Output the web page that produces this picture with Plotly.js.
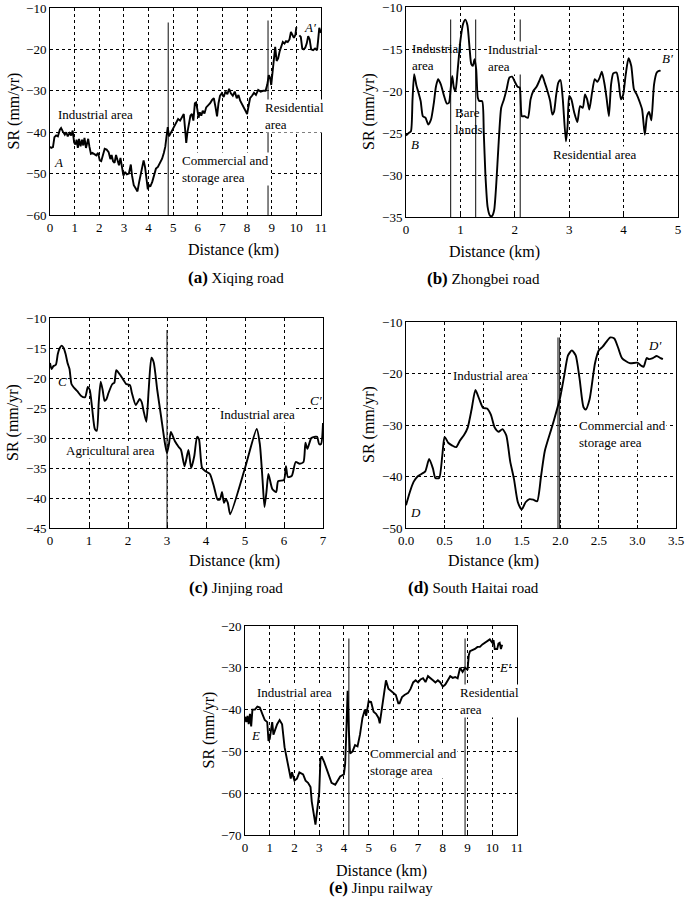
<!DOCTYPE html>
<html><head><meta charset="utf-8">
<script src="https://cdn.plot.ly/plotly-3.0.1.min.js"></script>
<style>body{margin:0;background:#fff}#c{width:685px;height:902px}</style>
</head><body><div id="c"></div>
<script>
// ---------- DATA ----------
// (a) Xiqing road
const aX = [0,0.05,0.12,0.18,0.25,0.32,0.4,0.45,0.52,0.6,0.66,0.72,0.8,0.86,0.92,0.98,1.03,1.08,1.13,1.18,1.24,1.3,1.35,1.4,1.46,1.5,1.55,1.6,1.66,1.72,1.8,1.88,1.95,2.02,2.08,2.15,2.22,2.3,2.38,2.45,2.5,2.56,2.62,2.68,2.74,2.8,2.86,2.92,2.98,3.05,3.12,3.2,3.28,3.33,3.4,3.47,3.55,3.62,3.68,3.74,3.8,3.86,3.92,3.97,4.02,4.08,4.15,4.22,4.3,4.38,4.46,4.55,4.62,4.68,4.73,4.78,4.83,4.9,4.97,5.05,5.12,5.2,5.28,5.36,5.43,5.48,5.53,5.58,5.64,5.7,5.76,5.82,5.88,5.93,5.98,6.03,6.08,6.14,6.2,6.27,6.34,6.42,6.5,6.58,6.65,6.72,6.78,6.84,6.9,6.97,7.05,7.12,7.2,7.27,7.34,7.42,7.5,7.58,7.65,7.72,7.8,7.88,7.95,8.0,8.06,8.12,8.2,8.28,8.36,8.45,8.55,8.65,8.75,8.82,8.88,8.93,8.98,9.03,9.08,9.14,9.2,9.26,9.32,9.38,9.45,9.52,9.58,9.65,9.72,9.78,9.84,9.9,9.96,10.0,10.06,10.12,10.18,10.24,10.3,10.36,10.42,10.48,10.54,10.6,10.68,10.76,10.84,10.88,10.93,11.0];
const aY = [-43.5,-43.8,-43.6,-41.2,-40.8,-41,-39.4,-39,-39.8,-40.6,-40,-41,-40.2,-40.8,-39.6,-42.5,-43,-41.8,-43.8,-41.6,-43.4,-41.8,-43.2,-41.4,-43.8,-42.4,-41.6,-43.5,-45.2,-45,-45.3,-45.6,-45,-46.8,-47,-45.5,-44,-44.2,-44.8,-46.5,-45.5,-47,-47.4,-45.5,-46.8,-48,-46.2,-48.5,-50.5,-49.6,-50.2,-50,-47.8,-50.5,-52.8,-53.5,-54.3,-52,-50.5,-48.5,-46.8,-48.5,-51.5,-53.8,-52.8,-53,-52,-50.3,-48.8,-48.4,-47.5,-46.4,-45,-43.5,-41,-38.8,-41,-40.2,-39.5,-38.2,-37.5,-36.8,-37.2,-36.5,-35.6,-39,-42.6,-40,-37.5,-36,-35.6,-37.2,-33,-32.8,-34.5,-36.5,-35.2,-36,-34.8,-35.5,-34,-33.6,-33,-32.2,-31.8,-34,-36.2,-33,-31.2,-30.6,-31.5,-30.2,-30.8,-29.5,-30.6,-31.2,-30.2,-31.8,-31,-32.4,-33.2,-34,-35,-35.6,-33.5,-31.8,-31.2,-30.5,-31,-29.8,-30.2,-30,-30,-28.5,-26.2,-26.8,-28.6,-25.5,-23.5,-19.4,-22.8,-22.2,-20.5,-19.5,-18.2,-18.6,-18,-18.2,-17.6,-15.8,-16.6,-17.2,-16.5,-14.6,null,-16.6,-17,-19.8,-20,-19.6,-18.6,-16.8,-17.6,-20,-20.2,-19.8,-20.2,-18,-14.8,-16];

// (b) Zhongbei road
const bX = [0,0.05,0.09,0.12,0.15,0.19,0.23,0.27,0.31,0.36,0.41,0.46,0.51,0.55,0.59,0.64,0.7,0.75,0.79,0.82,0.85,0.88,0.91,0.95,1.0,1.05,1.09,1.13,1.17,1.2,1.23,1.26,1.29,1.32,1.35,1.4,1.43,1.46,1.5,1.54,1.58,1.62,1.66,1.7,1.75,1.8,1.85,1.9,1.95,2.0,2.05,2.09,2.13,2.18,2.24,2.29,2.34,2.4,2.45,2.5,2.55,2.6,2.65,2.69,2.72,2.76,2.8,2.84,2.88,2.94,2.97,3.0,3.04,3.09,3.15,3.2,3.25,3.29,3.33,3.37,3.42,3.47,3.52,3.56,3.6,3.65,3.69,3.73,3.77,3.81,3.87,3.91,3.95,3.99,4.04,4.09,4.14,4.19,4.24,4.29,4.34,4.39,4.43,4.47,4.51,4.56,4.61,4.65,4.68];
const bY = [-25.3,-25,-24.8,-21,-18,-19.3,-20.2,-21.2,-23,-23.2,-24,-23.4,-21.5,-19.5,-18.6,-19.2,-20.6,-21.5,-21.4,-19.8,-18.2,-19.6,-20,-17.5,-14,-12,-11.5,-12.2,-15,-16.8,-17,-16.2,-17.4,-20.8,-21.2,-21.2,-25,-30,-33.8,-34.8,-34.9,-34.2,-31,-26.5,-22,-21,-19.8,-18.4,-18.3,-18.9,-19.5,-19.6,-23,-23,-23.2,-21,-20,-19.5,-18.8,-18.1,-19,-20,-21.2,-22.8,-22.5,-20.5,-19,-18.7,-20.8,-26,-24.2,-20.6,-21,-22.5,-23.7,-21.8,-22,-20.4,-21,-22.2,-20.2,-18.6,-18.9,-18.4,-17.7,-19.2,-21,-23,-19.2,-17.9,-17.8,-19,-21,-20.5,-18,-16.1,-17,-19.8,-20.4,-21.2,-22.2,-25.2,-23,-22.5,-23.5,-19.2,-17.8,-17.6,-17.6];

// (c) Jinjing road
const cX = [0,0.04,0.09,0.15,0.2,0.25,0.3,0.35,0.4,0.45,0.5,0.55,0.6,0.7,0.8,0.9,0.97,1.02,1.08,1.15,1.2,1.25,1.3,1.35,1.4,1.45,1.5,1.6,1.65,1.7,1.8,1.9,1.95,2.05,2.1,2.2,2.3,2.35,2.4,2.47,2.53,2.6,2.66,2.75,2.85,2.95,3.0,3.05,3.1,3.2,3.3,3.36,3.45,3.55,3.62,3.7,3.77,3.82,3.9,4.0,4.1,4.2,4.3,4.36,4.41,4.46,4.51,4.56,4.62,5.0,5.3,5.38,5.45,5.5,5.55,5.6,5.7,5.8,5.85,6.0,6.05,6.1,6.2,6.3,6.4,6.5,6.55,6.6,6.7,6.8,6.85,6.9,6.95,7.0];
const cY = [-17.5,-18.5,-18,-17.8,-16,-15,-14.6,-15,-16,-17.5,-18.5,-21,-21.5,-22.2,-23,-23.2,-21.5,-22,-25,-28.5,-28.8,-24,-20.6,-22,-23.8,-23.5,-22.5,-21,-20.8,-18.7,-19.5,-20.5,-21,-21.2,-22.5,-24.5,-23.5,-24,-25.5,-27.3,-22,-16.6,-17.4,-22,-26.5,-31,-32.5,-31,-29,-30.5,-31.5,-32,-34.7,-32,-35,-33,-29.8,-30.2,-35,-35.6,-36,-38,-40.3,-40.2,-39,-40.8,-40.2,-40.8,-42.7,-35,-28.5,-31,-37,-41.5,-39,-36,-38.5,-39,-37.2,-37,-34.7,-36.5,-36.3,-34,-34.3,-34,-30.8,-31.8,-30,-29.8,-29.8,-31,-31,-27.5];

// (d) South Haitai road
const dX = [0,0.05,0.1,0.15,0.2,0.25,0.3,0.35,0.38,0.43,0.47,0.5,0.55,0.6,0.65,0.7,0.75,0.8,0.85,0.9,0.95,1.0,1.05,1.1,1.15,1.2,1.25,1.3,1.35,1.4,1.45,1.5,1.55,1.6,1.65,1.7,1.75,1.8,1.9,2.0,2.05,2.1,2.15,2.2,2.25,2.3,2.33,2.38,2.45,2.5,2.55,2.6,2.65,2.7,2.75,2.8,2.9,3.0,3.05,3.08,3.12,3.15,3.2,3.25,3.3,3.33];
const dY = [-45.6,-43,-41,-40,-39.5,-39,-36.6,-38.5,-40.3,-40.3,-36,-32.3,-33.5,-34,-34.3,-33,-32,-30.5,-27,-23.2,-25,-26.7,-26.8,-28,-30.5,-31.3,-30.8,-32,-37,-40.5,-45,-46.4,-45,-44.4,-44.5,-44.8,-40,-35,-30,-24.5,-20.5,-16.5,-15.5,-16.5,-21,-26.5,-27,-25,-18,-15.5,-14.8,-13.8,-13,-13.2,-15,-17,-18,-17.9,-18.5,-18.7,-17,-17.2,-17,-16.6,-17,-17.2];

// (e) Jinpu railway
const eX = [0,0.05,0.1,0.15,0.2,0.25,0.3,0.4,0.5,0.6,0.7,0.8,0.9,0.95,1.0,1.05,1.1,1.15,1.2,1.3,1.4,1.5,1.6,1.7,1.8,1.85,1.9,2.0,2.1,2.2,2.35,2.45,2.55,2.6,2.65,2.7,2.8,2.85,2.9,2.95,3.0,3.05,3.1,3.2,3.35,3.5,3.65,3.75,3.85,4.0,4.05,4.1,4.15,4.2,4.25,4.35,4.45,4.55,4.65,4.75,4.85,4.9,5.0,5.1,5.2,5.3,5.4,5.45,5.5,5.6,5.7,5.8,5.9,6.0,6.1,6.2,6.25,6.35,6.45,6.6,6.7,6.8,6.9,7.0,7.1,7.2,7.3,7.4,7.5,7.6,7.7,7.8,7.9,8.0,8.1,8.2,8.3,8.4,8.5,8.6,8.7,8.8,8.9,9.0,9.05,9.1,9.2,9.3,9.4,9.5,9.6,9.7,9.8,9.9,10.0,10.05,10.1,10.2,10.25,10.3,10.35,10.4];
const eY = [-41.7,-43,-41.5,-43.5,-41,-44,-40,-40,-39.3,-39.5,-41,-42.5,-43,-47.5,-47,-45,-43,-46,-45,-43.5,-42.5,-43.5,-49,-52,-55,-56.5,-55,-57,-56.5,-55,-55.5,-57,-57.5,-58,-58.5,-62,-66,-67.5,-65,-62,-60,-52,-51.2,-52.5,-55,-57.5,-58,-57,-56,-55.5,-53,-45,-35.5,-45,-50.5,-50,-48.5,-48.8,-46,-42,-40,-41.5,-38,-38.2,-40.5,-41,-42,-43.3,-41,-37,-33,-35,-35.5,-36,-36.5,-38.5,-38.5,-37,-36.5,-36,-35,-33.5,-33,-33.5,-32.8,-32.5,-33.4,-32,-32.6,-33,-33.5,-33,-33.5,-34.5,-34,-33,-32,-32.4,-32.2,-32.5,-30,-31,-30,-30.5,-27,-26,-25.8,-25.5,-25,-25,-24.4,-24,-23.5,-23.2,-24,-23.4,-25.5,-25.5,-24.2,-24,-25.5,-24.5];

// boundaries between land-use zones (km) and their top ends (mm/yr)
const aBounds = [4.8, 8.85], aTops = [-13.5, -13];
const bBounds = [0.82, 1.28, 2.1], bTops = [-11.5, -11.5, -11.5];
const cBounds = [3.0], cTops = [-12];
const dBounds = [1.97, 1.99], dTops = [-13, -13];
const eBounds = [4.2, 8.9], eTops = [-23, -23];

// axis ranges / ticks
const xRanges = [[0,11],[0,5],[0,7],[0,3.5],[0,11]];
const yRanges = [[-60,-10],[-35,-10],[-45,-10],[-50,-10],[-70,-20]];
const xDticks = [1,1,1,0.5,1];
const yDticks = [10,5,5,10,10];
const captions = [['(a)','Xiqing road'],['(b)','Zhongbei road'],['(c)','Jinjing road'],['(d)','South Haitai road'],['(e)','Jinpu railway']];

// ---------- LAYOUT ----------
const W = 685, H = 902;
const FONT = 'Liberation Serif, Times New Roman, serif';
// plot boxes in pixels [left, right, top, bottom]
const boxes = [[50,321,8,215],[406,678,7,217],[50,323,318,528],[406,676,322,528],[245,517,626,835]];
const titleOff = [35,35,33,33,36];
const capOff = [62,61,59,59,52];
const px = v => v / W, py = v => 1 - v / H;

const series = [[aX,aY],[bX,bY],[cX,cY],[dX,dY],[eX,eY]];
const bounds = [[aBounds,aTops],[bBounds,bTops],[cBounds,cTops],[dBounds,dTops],[eBounds,eTops]];
const shapesSmooth = ['linear','spline','spline','spline','linear'];

const traces = [];
const layout = {
  width: W, height: H, margin:{l:0,r:0,t:0,b:0},
  paper_bgcolor:'#fff', plot_bgcolor:'#fff', showlegend:false,
  font:{family:FONT, color:'#000'}, annotations:[], shapes:[]
};

series.forEach((s,i) => {
  const n = i === 0 ? '' : String(i+1);
  const [l,r,t,b] = boxes[i];
  bounds[i][0].forEach((bx,k) => {
    traces.push({x:[bx,bx], y:[yRanges[i][0], bounds[i][1][k]], xaxis:'x'+n, yaxis:'y'+n,
      mode:'lines', line:{color:'#333', width:1.2}, hoverinfo:'skip'});
  });
  traces.push({x:s[0], y:s[1], xaxis:'x'+n, yaxis:'y'+n, mode:'lines',
    line:{color:'#000', width:1.9, shape:shapesSmooth[i], smoothing:0.6}, connectgaps:false});
  const common = {showline:true, linecolor:'#000', linewidth:1, mirror:true, ticks:'inside', ticklen:3,
    tickcolor:'#000', showgrid:true, gridcolor:'#000', griddash:'dot', gridwidth:1, zeroline:false,
    tickfont:{family:FONT, size:13, color:'#000'}, fixedrange:true, ticklabeloverflow:'allow'};
  layout['xaxis'+n] = Object.assign({}, common, {domain:[px(l),px(r)], range:xRanges[i], dtick:xDticks[i],
    tick0:0, anchor:'y'+n, tickformat: i===3 ? '.1f' : ''});
  layout['yaxis'+n] = Object.assign({}, common, {domain:[py(b),py(t)], range:yRanges[i], dtick:yDticks[i],
    tick0:0, anchor:'x'+n});
  const cx = (l+r)/2;
  layout.annotations.push({xref:'paper', yref:'paper', x:px(cx), y:py(b+titleOff[i]), text:'Distance (km)',
    showarrow:false, font:{size:16}, yanchor:'middle'});
  layout.annotations.push({xref:'paper', yref:'paper', x:px(cx), y:py(b+capOff[i]), showarrow:false,
    text:'<b><span style="font-size:17px">'+captions[i][0]+'</span></b> '+captions[i][1], font:{size:15}, yanchor:'middle'});
  layout.annotations.push({xref:'paper', yref:'paper', x:px(l-37), y:py((t+b)/2), text:'SR (mm/yr)',
    showarrow:false, textangle:-90, font:{size:16}, xanchor:'center', yanchor:'middle'});
});

function lab(n, x, y, text, opts) {
  layout.annotations.push(Object.assign({xref:'x'+n, yref:'y'+n, x:x, y:y, text:text, showarrow:false,
    font:{size:13}, bgcolor:'#fff', borderpad:0}, opts||{}));
}
const clear = 'rgba(0,0,0,0)';
lab('', 1.85, -35.8, 'Industrial area');
lab('', 0.33, -47.2, '<i>A</i>', {bgcolor:clear});
lab('', 5.3, -48.8, 'Commercial and<br>storage area', {xanchor:'left', align:'left'});
lab('', 8.7, -36.1, 'Residential<br>area', {xanchor:'left', align:'left'});
lab('', 10.55, -14.6, '<i>A′</i>', {bgcolor:clear});

lab('2', 0.1, -15.9, 'Industrial<br>area', {xanchor:'left', align:'left', bgcolor:clear});
lab('2', 0.88, -23.6, 'Bare<br>lands', {xanchor:'left', align:'left', bgcolor:clear});
lab('2', 1.49, -16.1, 'Industrial<br>area', {xanchor:'left', align:'left'});
lab('2', 3.47, -27.6, 'Residential area');
lab('2', 0.17, -26.4, '<i>B</i>', {bgcolor:clear});
lab('2', 4.8, -16.1, '<i>B′</i>', {bgcolor:clear});

lab('3', 0.33, -20.5, '<i>C</i>', {bgcolor:clear});
lab('3', 1.56, -32, 'Agricultural area');
lab('3', 5.33, -26, 'Industrial area');
lab('3', 6.82, -23.7, '<i>C′</i>', {bgcolor:clear});

lab('4', 1.1, -20.3, 'Industrial area');
lab('4', 2.23, -31.8, 'Commercial and<br>storage area', {xanchor:'left', align:'left'});
lab('4', 0.12, -47, '<i>D</i>', {bgcolor:clear});
lab('4', 3.22, -14.5, '<i>D′</i>', {bgcolor:clear});

lab('5', 2.02, -36, 'Industrial area');
lab('5', 0.44, -46.3, '<i>E</i>', {bgcolor:clear});
lab('5', 5.0, -52.5, 'Commercial and<br>storage area', {xanchor:'left', align:'left'});
lab('5', 8.65, -38, 'Residential<br>area', {xanchor:'left', align:'left'});
lab('5', 10.5, -30, '<i>E′</i>', {bgcolor:clear});

Plotly.newPlot('c', traces, layout, {staticPlot:true, displayModeBar:false});
</script>
</body></html>
